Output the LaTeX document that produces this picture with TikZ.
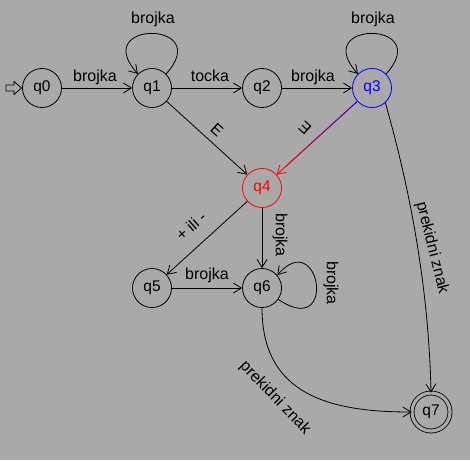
\documentclass[tikz,border=0pt]{standalone}
\usepackage{fontspec}
\setmainfont{Liberation Sans}
\usetikzlibrary{arrows.meta,calc}
\definecolor{bg}{RGB}{169,169,169}
\definecolor{qblue}{RGB}{0,0,255}
\definecolor{qred}{RGB}{255,0,0}
\begin{document}
\begin{tikzpicture}[x=1pt,y=-1pt,
  state/.style={circle,draw,minimum size=39pt,inner sep=0pt,line width=0.8pt,font=\fontsize{15.5}{18}\selectfont},
  lbl/.style={font=\fontsize{16}{19}\selectfont,inner sep=0pt},
  arr/.style={-{Straight Barb[length=8pt,width=10pt,line width=0.8pt]},line width=0.8pt}]
\fill[bg] (0,0) rectangle (470,460);
% states
\node[state] (q0) at (42,88) {q0};
\node[state] (q1) at (152,88) {q1};
\node[state] (q2) at (262,88) {q2};
\node[state,qblue] (q3) at (372,88) {q3};
\node[state,qred] (q4) at (262,188) {q4};
\node[state] (q5) at (152,288) {q5};
\node[state] (q6) at (262,288) {q6};
\node[state,minimum size=38pt,double=bg,double distance=3.2pt] (q7) at (431,412) {q7};
% initial arrow
\draw[line width=0.8pt] (6,85) -- (14,85) -- (14,81.5) -- (21.5,88) -- (14,94.5) -- (14,91) -- (6,91) -- cycle;
% transitions
\draw[arr] (q0) -- (q1);
\draw[arr] (q1) -- (q2);
\draw[arr] (q2) -- (q3);
\draw[arr] (q1.45) .. controls (215,20) and (89,20) .. (q1.135);
\draw[arr] (q3.45) .. controls (435,20) and (309,20) .. (q3.135);
\draw[arr] (q1) -- (q4);
\draw[arr,qred] (q3) -- (q4);
\path (q3) -- (q4) coordinate[pos=0] (ga) coordinate[pos=1] (gb);
\foreach \i in {0,...,17} {
  \pgfmathsetmacro\fa{\i/20}
  \pgfmathsetmacro\fb{(\i+1)/20}
  \pgfmathsetmacro\p{100*(\i+0.5)/20}
  \draw[line width=0.8pt, qred!\p!qblue] ($(ga)!\fa!(gb)$) -- ($(ga)!\fb!(gb)$);
}
\draw[arr] (q4) -- (q5);
\draw[arr] (q4) -- (q6);
\draw[arr] (q5) -- (q6);
\draw[arr] (q6.-35) .. controls (338,340) and (320,226) .. (q6.40);
\draw[arr] (q3.-48) .. controls (414,203) and (429,300) .. (q7.north);
\draw[arr] (q6.south) .. controls (262,395) and (330,412) .. (q7.west);
% labels
\node[lbl,anchor=base] (l01) at (95,81) {brojka};
\node[lbl,anchor=base] (l12) at (210,81) {tocka};
\node[lbl,anchor=base] (l23) at (313,81) {brojka};
\node[lbl,anchor=base] (l11) at (153,24) {brojka};
\node[lbl,anchor=base] (l33) at (373,24) {brojka};
\node[lbl,rotate=-42] (l14) at (217,130) {E};
\node[lbl,rotate=138] (l34) at (305,128) {E};
\node[lbl,rotate=42] (l45) at (191,226) {+ ili -};
\node[lbl,rotate=-90] (l46) at (280,235) {brojka};
\node[lbl,anchor=base] (l56) at (207,279) {brojka};
\node[lbl,rotate=-90] (l66) at (331,283) {brojka};
\node[lbl,rotate=-76] (l37) at (432,248) {prekidni znak};
\node[lbl,rotate=-46] (l67) at (275,398) {prekidni znak};
\end{tikzpicture}
\end{document}
